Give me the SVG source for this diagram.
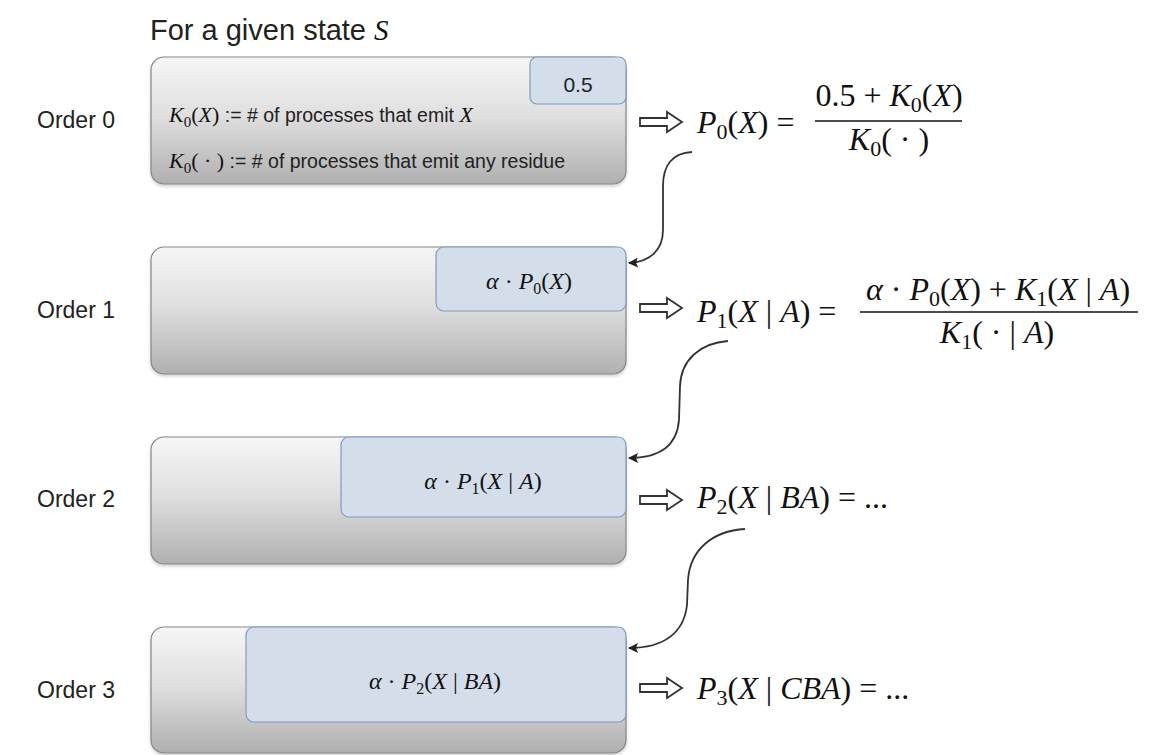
<svg xmlns="http://www.w3.org/2000/svg" width="1153" height="755" viewBox="0 0 1153 755">
<defs>
<linearGradient id="gray" x1="0" y1="0" x2="0" y2="1">
<stop offset="0" stop-color="#f6f6f6"/>
<stop offset="0.45" stop-color="#e0e0e0"/>
<stop offset="1" stop-color="#b0b0b0"/>
</linearGradient>
<filter id="sh" x="-5%" y="-5%" width="110%" height="115%">
<feDropShadow dx="0" dy="2" stdDeviation="1.5" flood-color="#000" flood-opacity="0.18"/>
</filter>
<marker id="ah" viewBox="0 0 10 10" refX="9" refY="5" markerWidth="10" markerHeight="10" orient="auto" markerUnits="userSpaceOnUse">
<path d="M0,0 L10,5 L0,10 L2,5 Z" fill="#222"/>
</marker>
</defs>
<style>
.lbl{font-family:"Liberation Sans",Arial,sans-serif;font-size:23px;fill:#222}
.title{font-family:"Liberation Sans",Arial,sans-serif;font-size:29px;fill:#222}
.outer{fill:url(#gray);stroke:#858585;stroke-width:1.2;filter:url(#sh)}
.inner{fill:#d3deea;stroke:#7f9ac0;stroke-width:1.2}
.m{font-family:"Liberation Serif","Times New Roman",serif;fill:#111}
.i{font-style:italic}
.s{font-family:"Liberation Sans",Arial,sans-serif}
.fm{font-size:32px}
.bt{font-size:24px}
.conn{fill:none;stroke:#333;stroke-width:1.8}
.harrow{fill:#fff;stroke:#333;stroke-width:1.8;stroke-linejoin:miter}
.bar{stroke:#111;stroke-width:1.5}
</style>

<text class="title" x="150" y="40">For a given state <tspan class="m i">S</tspan></text>

<g id="order0">
<text class="lbl" x="37" y="128">Order 0</text>
<rect class="outer" x="151" y="57" width="475" height="127" rx="13"/>
<rect class="inner" x="530" y="57" width="96" height="47" rx="7"/>
<text class="s" x="578" y="92" font-size="21" text-anchor="middle" fill="#222">0.5</text>
<text x="169" y="122" font-size="19.5" fill="#222"><tspan class="m i" font-size="22">K</tspan><tspan class="m" font-size="15" dy="5">0</tspan><tspan class="m" font-size="22" dy="-5">(</tspan><tspan class="m i" font-size="22">X</tspan><tspan class="m" font-size="22">)</tspan><tspan class="s"> := # of processes that emit </tspan><tspan class="m i" font-size="22">X</tspan></text>
<text x="169" y="168" font-size="19.5" fill="#222"><tspan class="m i" font-size="22">K</tspan><tspan class="m" font-size="15" dy="5">0</tspan><tspan class="m" font-size="22" dy="-5">( · )</tspan><tspan class="s"> := # of processes that emit any residue</tspan></text>
</g>

<g id="order1">
<text class="lbl" x="37" y="318">Order 1</text>
<rect class="outer" x="151" y="247" width="475" height="127" rx="13"/>
<rect class="inner" x="436" y="247" width="190" height="64" rx="8"/>
<text class="m bt" x="529" y="289" text-anchor="middle"><tspan class="i">α</tspan> · <tspan class="i">P</tspan><tspan font-size="16" dy="5">0</tspan><tspan dy="-5">(</tspan><tspan class="i">X</tspan>)</text>
</g>

<g id="order2">
<text class="lbl" x="37" y="507">Order 2</text>
<rect class="outer" x="151" y="437" width="475" height="127" rx="13"/>
<rect class="inner" x="341" y="437" width="285" height="80" rx="8"/>
<text class="m bt" x="483" y="489" text-anchor="middle"><tspan class="i">α</tspan> · <tspan class="i">P</tspan><tspan font-size="16" dy="5">1</tspan><tspan dy="-5">(</tspan><tspan class="i">X</tspan> | <tspan class="i">A</tspan>)</text>
</g>

<g id="order3">
<text class="lbl" x="37" y="698">Order 3</text>
<rect class="outer" x="151" y="627" width="475" height="126" rx="13"/>
<rect class="inner" x="246" y="627" width="380" height="95" rx="8"/>
<text class="m bt" x="435" y="689" text-anchor="middle"><tspan class="i">α</tspan> · <tspan class="i">P</tspan><tspan font-size="16" dy="5">2</tspan><tspan dy="-5">(</tspan><tspan class="i">X</tspan> | <tspan class="i">BA</tspan>)</text>
</g>

<g id="formula0">
<path class="harrow" d="M640,118 L667,118 L667,112 L682,122 L667,132 L667,126 L640,126 Z"/>
<text class="m fm" x="697" y="133"><tspan class="i">P</tspan><tspan font-size="22" dy="6">0</tspan><tspan dy="-6">(</tspan><tspan class="i">X</tspan>) =</text>
<line class="bar" x1="815" y1="121" x2="962" y2="121"/>
<text class="m fm" x="889" y="106" text-anchor="middle">0.5 + <tspan class="i">K</tspan><tspan font-size="22" dy="6">0</tspan><tspan dy="-6">(</tspan><tspan class="i">X</tspan>)</text>
<text class="m fm" x="889" y="150" text-anchor="middle"><tspan class="i">K</tspan><tspan font-size="22" dy="6">0</tspan><tspan dy="-6">( · )</tspan></text>
</g>

<g id="formula1">
<path class="harrow" d="M640,304 L667,304 L667,298 L682,308 L667,318 L667,312 L640,312 Z"/>
<text class="m fm" x="697" y="322"><tspan class="i">P</tspan><tspan font-size="22" dy="6">1</tspan><tspan dy="-6">(</tspan><tspan class="i">X</tspan> | <tspan class="i">A</tspan>) =</text>
<line class="bar" x1="860" y1="312" x2="1138" y2="312"/>
<text class="m fm" x="998" y="300" text-anchor="middle"><tspan class="i">α</tspan> · <tspan class="i">P</tspan><tspan font-size="22" dy="6">0</tspan><tspan dy="-6">(</tspan><tspan class="i">X</tspan>) + <tspan class="i">K</tspan><tspan font-size="22" dy="6">1</tspan><tspan dy="-6">(</tspan><tspan class="i">X</tspan> | <tspan class="i">A</tspan>)</text>
<text class="m fm" x="997" y="343" text-anchor="middle"><tspan class="i">K</tspan><tspan font-size="22" dy="6">1</tspan><tspan dy="-6">( ·  | </tspan><tspan class="i">A</tspan>)</text>
</g>

<g id="formula2">
<path class="harrow" d="M640,496 L667,496 L667,490 L682,500 L667,510 L667,504 L640,504 Z"/>
<text class="m fm" x="697" y="508"><tspan class="i">P</tspan><tspan font-size="22" dy="6">2</tspan><tspan dy="-6">(</tspan><tspan class="i">X</tspan>  |  <tspan class="i">BA</tspan>) = ...</text>
</g>

<g id="formula3">
<path class="harrow" d="M640,684 L667,684 L667,678 L682,688 L667,698 L667,692 L640,692 Z"/>
<text class="m fm" x="697" y="699"><tspan class="i">P</tspan><tspan font-size="22" dy="6">3</tspan><tspan dy="-6">(</tspan><tspan class="i">X</tspan>  |  <tspan class="i">CBA</tspan>) = ...</text>
</g>

<g id="connectors">
<path class="conn" marker-end="url(#ah)" d="M692,152 C672,153 663,166 663,186 L663,230 C663,250 650,262 629,263"/>
<path class="conn" marker-end="url(#ah)" d="M728,341 C700,343 681,360 680,386 L679,420 C677,446 660,458 629,458"/>
<path class="conn" marker-end="url(#ah)" d="M745,529 C712,531 690,550 688,580 L687,605 C684,632 665,648 629,648"/>
</g>
</svg>
